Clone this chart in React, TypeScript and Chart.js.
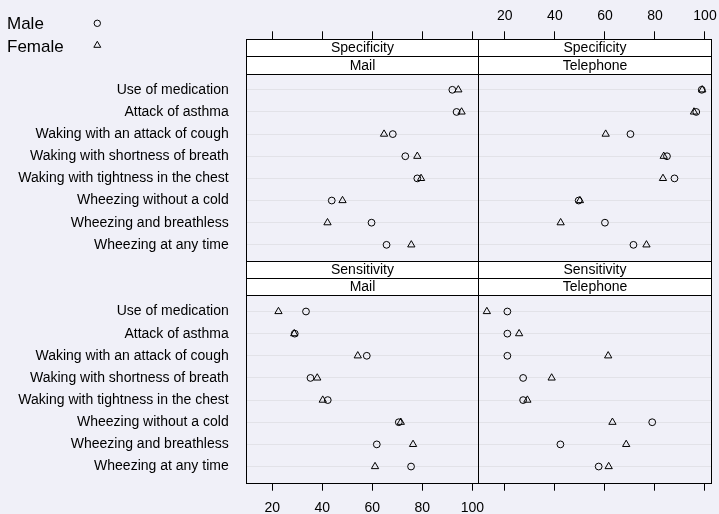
import React, { useEffect, useRef } from 'react';
import { Chart, registerables } from 'chart.js';

Chart.register(...registerables);

// ---- data ----
const items = [
  'Use of medication',
  'Attack of asthma',
  'Waking with an attack of cough',
  'Waking with shortness of breath',
  'Waking with tightness in the chest',
  'Wheezing without a cold',
  'Wheezing and breathless',
  'Wheezing at any time',
];
const sexes = ['Male', 'Female'];
const measures = ['Specificity', 'Sensitivity'];
const methods = ['Mail', 'Telephone'];
const xTicks = [20, 40, 60, 80, 100];

const specMailMale = [92, 93.7, 68.2, 73.2, 78, 43.8, 59.7, 65.7];
const specMailFemale = [94.4, 95.7, 64.7, 78, 79.5, 48.1, 42.1, 75.6];
const specTelMale = [98.7, 96.5, 70.2, 84.8, 87.8, 49.5, 60, 71.4];
const specTelFemale = [98.9, 95.6, 60.3, 83.5, 83.2, 50, 42.3, 76.6];
const sensMailMale = [33.5, 29, 57.8, 35.3, 42.2, 70.6, 61.8, 75.5];
const sensMailFemale = [22.5, 28.8, 54.2, 38, 40.2, 71.4, 76.3, 61.1];
const sensTelMale = [21, 21, 21, 27.3, 27.3, 78.9, 42.2, 57.5];
const sensTelFemale = [12.8, 25.7, 61.3, 38.7, 29, 63, 68.5, 61.5];

// ---- style / layout constants ----
const BG = '#f0f0f8';
const GRID = '#e2e2e8';
const FONT = "'Liberation Sans', Arial, Helvetica, sans-serif";
const X_MIN = 9.4;
const X_MAX = 102.4;
const Y_MIN = -1.28;
const Y_MAX = 8.73;
const STRIP_END = 0.27;
const CIRCLE_R = 3.4;
const TRI_R = 4.2;

const styles = ['circle', 'triangle'];

function mkDataset(label: string, values: number[], xID: string, yID: string, sexIdx: number) {
  const style = styles[sexIdx];
  const r = sexIdx === 0 ? CIRCLE_R : TRI_R;
  return {
    label,
    data: values.map((v, i) => ({ x: v, y: i + 1 })),
    xAxisID: xID,
    yAxisID: yID,
    pointStyle: style,
    pointRadius: r,
    pointHoverRadius: r,
    borderColor: '#000',
    backgroundColor: 'rgba(0,0,0,0)',
    pointBorderWidth: 1,
    borderWidth: 1,
    showLine: false,
  };
}

const crisp = (v: number) => Math.round(v) + 0.5;

const latticePlugin = {
  id: 'lattice',
  beforeDraw(chart: any) {
    const { ctx, width, height } = chart;
    ctx.save();
    ctx.fillStyle = BG;
    ctx.fillRect(0, 0, width, height);
    ctx.restore();
  },
  afterDraw(chart: any) {
    const ctx = chart.ctx;
    const rows = [chart.scales.yTop, chart.scales.yBot];
    const cols = [chart.scales.xBL, chart.scales.xBR];
    ctx.save();
    ctx.lineWidth = 1;
    ctx.strokeStyle = '#000';
    rows.forEach((ys: any, ri: number) => {
      cols.forEach((xs: any, ci: number) => {
        const top = crisp(ys.top);
        const bottom = crisp(ys.bottom);
        const left = crisp(xs.left);
        const right = crisp(xs.right);
        const sEnd = crisp(ys.getPixelForValue(STRIP_END));
        const sMid = crisp((ys.top + ys.getPixelForValue(STRIP_END)) / 2);
        ctx.fillStyle = '#ffffff';
        ctx.fillRect(left, top, right - left, sEnd - top);
        ctx.beginPath();
        ctx.moveTo(left, sMid);
        ctx.lineTo(right, sMid);
        ctx.moveTo(left, sEnd);
        ctx.lineTo(right, sEnd);
        ctx.stroke();
        ctx.strokeRect(left, top, right - left, bottom - top);
        ctx.fillStyle = '#000';
        ctx.font = `14px ${FONT}`;
        ctx.textAlign = 'center';
        ctx.textBaseline = 'middle';
        const cx = (left + right) / 2;
        ctx.fillText(measures[ri], cx, (top + sMid) / 2 + 0.5);
        ctx.fillText(methods[ci], cx, (sMid + sEnd) / 2 + 0.5);
      });
    });
    // key
    ctx.fillStyle = '#000';
    ctx.font = `17px ${FONT}`;
    ctx.textAlign = 'left';
    ctx.textBaseline = 'alphabetic';
    ctx.fillText(sexes[0], 7, 29.3);
    ctx.fillText(sexes[1], 7, 51.6);
    ctx.beginPath();
    ctx.arc(97.3, 23.3, 3.2, 0, Math.PI * 2);
    ctx.stroke();
    const tx = 97.3, ty = 45.3, tr = 4.0;
    ctx.beginPath();
    for (let k = 0; k < 3; k++) {
      const a = (k * 2 * Math.PI) / 3;
      const px = tx + Math.sin(a) * tr;
      const py = ty - Math.cos(a) * tr;
      if (k === 0) ctx.moveTo(px, py); else ctx.lineTo(px, py);
    }
    ctx.closePath();
    ctx.stroke();
    ctx.restore();
  },
};

function yScale(stack: string) {
  return {
    type: 'linear',
    axis: 'y',
    position: 'left',
    stack,
    reverse: true,
    min: Y_MIN,
    max: Y_MAX,
    afterBuildTicks: (s: any) => {
      s.ticks = items.map((_, i) => ({ value: i + 1 }));
    },
    afterFit: (s: any) => {
      s.width = 245.7;
      s.paddingTop = 0;
      s.paddingBottom = 0;
    },
    ticks: {
      autoSkip: false,
      padding: 17,
      color: '#000',
      font: { family: FONT, size: 14 },
      callback: (v: number) => items[Math.round(v) - 1] ?? '',
    },
    grid: { color: GRID, lineWidth: 1, drawTicks: false },
    border: { display: false },
  };
}

function xScale(position: string, stack: string, showLabels: boolean, height: number, padding: number) {
  return {
    type: 'linear',
    axis: 'x',
    position,
    stack,
    min: X_MIN,
    max: X_MAX,
    afterBuildTicks: (s: any) => {
      s.ticks = xTicks.map((v) => ({ value: v }));
    },
    afterFit: (s: any) => {
      s.height = height;
      s.paddingLeft = 0;
      s.paddingRight = 0;
    },
    ticks: {
      display: showLabels,
      autoSkip: false,
      maxRotation: 0,
      padding,
      color: '#000',
      font: { family: FONT, size: 14 },
    },
    grid: { display: true, drawOnChartArea: false, drawTicks: true, tickLength: 8, color: '#000', lineWidth: 1 },
    border: { display: false },
  };
}

export default function App() {
  const ref = useRef<HTMLCanvasElement | null>(null);
  useEffect(() => {
    if (!ref.current) return;
    const datasets = [
      mkDataset(sexes[0], specMailMale, 'xBL', 'yTop', 0),
      mkDataset(sexes[1], specMailFemale, 'xBL', 'yTop', 1),
      mkDataset(sexes[0], specTelMale, 'xBR', 'yTop', 0),
      mkDataset(sexes[1], specTelFemale, 'xBR', 'yTop', 1),
      mkDataset(sexes[0], sensMailMale, 'xBL', 'yBot', 0),
      mkDataset(sexes[1], sensMailFemale, 'xBL', 'yBot', 1),
      mkDataset(sexes[0], sensTelMale, 'xBR', 'yBot', 0),
      mkDataset(sexes[1], sensTelFemale, 'xBR', 'yBot', 1),
    ];
    const chart = new Chart(ref.current, {
      type: 'scatter',
      data: { datasets },
      options: {
        responsive: false,
        animation: false,
        events: [],
        layout: { autoPadding: false, padding: { left: 0, top: 0, right: 8, bottom: 0 } },
        plugins: { legend: { display: false }, tooltip: { enabled: false }, title: { display: false } },
        scales: {
          yBot: yScale('ys'),
          yTop: yScale('ys'),
          xBL: xScale('bottom', 'xb', true, 31.3, 9),
          xBR: xScale('bottom', 'xb', false, 31.3, 9),
          xTR: xScale('top', 'xt', true, 39.3, 7),
          xTL: xScale('top', 'xt', false, 39.3, 7),
        },
      } as any,
      plugins: [latticePlugin],
    } as any);
    return () => chart.destroy();
  }, []);
  return (
    <div style={{ position: 'fixed', left: 0, top: 0, width: 719, height: 514, background: BG }}>
      <canvas ref={ref} width={719} height={514} style={{ display: 'block' }} />
    </div>
  );
}
